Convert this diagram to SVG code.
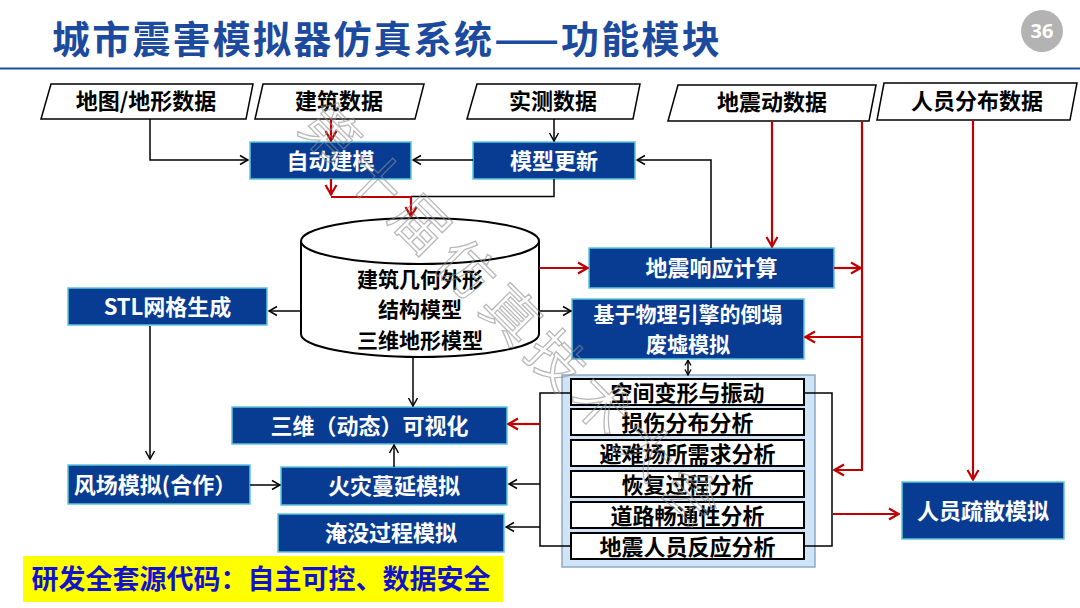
<svg xmlns="http://www.w3.org/2000/svg" width="1080" height="608" viewBox="0 0 1080 608">
<style>
text{font-family:"Noto Sans CJK SC","Microsoft YaHei",sans-serif;font-weight:700;}
.bb{fill:#073c92;stroke:#5cc6dc;stroke-width:1.5;}
.wt{fill:#fff;font-size:22px;text-anchor:middle;dominant-baseline:central;}
.kt{fill:#000;font-size:22px;text-anchor:middle;dominant-baseline:central;}
.ml{font-size:21px;}
.pg{fill:#fff;stroke:#000;stroke-width:1.5;}
.rw{fill:#fff;stroke:#000;stroke-width:2;}
.k{fill:none;stroke:#000;stroke-width:1.5;}
.r{fill:none;stroke:#c00000;stroke-width:2.2;}
</style>
<defs>
<marker id="ak" viewBox="0 0 12 12" refX="11" refY="6" markerWidth="12" markerHeight="12" markerUnits="userSpaceOnUse" orient="auto-start-reverse"><path d="M3,1.5 L11,6 L3,10.5" fill="none" stroke="#000" stroke-width="1.5"/></marker>
<marker id="as" viewBox="0 0 8 8" refX="7.5" refY="4" markerWidth="8" markerHeight="8" markerUnits="userSpaceOnUse" orient="auto-start-reverse"><path d="M2,1 L7.5,4 L2,7" fill="none" stroke="#000" stroke-width="1.3"/></marker>
<marker id="ar" viewBox="0 0 14 14" refX="13" refY="7" markerWidth="14" markerHeight="14" markerUnits="userSpaceOnUse" orient="auto"><path d="M3,1.5 L12.5,7 L3,12.5" fill="none" stroke="#c00000" stroke-width="2.2"/></marker>
</defs>
<rect width="1080" height="608" fill="#fff"/>

<g id="title">
<text x="52" y="53" font-size="38" fill="#1b4a9e" letter-spacing="2.2">城市震害模拟器仿真系统——功能模块</text>
<line x1="0" y1="68.5" x2="1080" y2="68.5" stroke="#1f4e9c" stroke-width="2"/>
</g>
<g id="page-number">
<circle cx="1042" cy="31" r="21" fill="#b3b3b3"/>
<text x="1042" y="30" font-size="20" fill="#fff" text-anchor="middle" dominant-baseline="central" style="font-family:'Open Sans','Liberation Sans',sans-serif">36</text>
</g>

<g id="input-map"><polygon class="pg" points="51,84 253,84 246,119 41,119"/><text class="kt" x="146" y="99">地图/地形数据</text></g>
<g id="input-building"><polygon class="pg" points="263,84 424,84 415,119 255,119"/><text class="kt" x="339" y="99">建筑数据</text></g>
<g id="input-measured"><polygon class="pg" points="477,84 640,84 633,119 467,119"/><text class="kt" x="553" y="99">实测数据</text></g>
<g id="input-ground-motion"><polygon class="pg" points="678,85 876,85 869,121 668,121"/><text class="kt" x="772" y="100">地震动数据</text></g>
<g id="input-population"><polygon class="pg" points="884,83 1077,83 1070,120 877,120"/><text class="kt" x="977" y="99">人员分布数据</text></g>

<g id="auto-modeling"><rect class="bb" x="250" y="142" width="161" height="37"/><text class="wt" x="330.5" y="158.5">自动建模</text></g>
<g id="model-update"><rect class="bb" x="473" y="142" width="162" height="37"/><text class="wt" x="554" y="158.5">模型更新</text></g>

<g id="database">
<path d="M301,241 V334 A119,23 0 0 0 539,334 V241" fill="#fff" stroke="#000" stroke-width="2"/>
<ellipse cx="420" cy="241" rx="119" ry="23" fill="#fff" stroke="#000" stroke-width="2"/>
<text class="kt ml" x="420" y="277.5">建筑几何外形</text>
<text class="kt ml" x="420" y="308">结构模型</text>
<text class="kt ml" x="420" y="338.5">三维地形模型</text>
</g>

<g id="stl-mesh"><rect class="bb" x="68" y="288" width="199" height="37"/><text class="wt" x="167.5" y="304.5">STL网格生成</text></g>
<g id="seismic-response"><rect class="bb" x="589" y="248" width="245" height="40"/><text class="wt" x="711.5" y="266">地震响应计算</text></g>
<g id="collapse-sim"><rect class="bb" x="572" y="299" width="232" height="60"/><text class="wt ml" x="688" y="312.5">基于物理引擎的倒塌</text><text class="wt ml" x="688" y="343">废墟模拟</text></g>
<g id="visualization"><rect class="bb" x="232" y="407" width="275" height="37"/><text class="wt" x="369.5" y="423.5">三维（动态）可视化</text></g>
<g id="wind-field"><rect class="bb" x="68" y="465" width="182" height="39"/><text class="wt" x="155" y="482.5">风场模拟(合作）</text></g>
<g id="fire-spread"><rect class="bb" x="281" y="467" width="226" height="38"/><text class="wt" x="394" y="484">火灾蔓延模拟</text></g>
<g id="flood-sim"><rect class="bb" x="278" y="514" width="226" height="38"/><text class="wt" x="391" y="531">淹没过程模拟</text></g>
<g id="evacuation"><rect class="bb" x="902" y="482" width="162" height="57"/><text class="wt" x="983" y="508.5">人员疏散模拟</text></g>

<g id="analysis">
<rect x="562" y="375" width="253" height="192" fill="#cfe5f7" stroke="#8da9c4" stroke-width="1.5"/>
<rect class="rw" x="571" y="379" width="233" height="26"/><text class="kt" x="687.5" y="390.5">空间变形与振动</text>
<rect class="rw" x="571" y="409" width="233" height="26"/><text class="kt" x="687.5" y="420.5">损伤分布分析</text>
<rect class="rw" x="571" y="440" width="233" height="26"/><text class="kt" x="687.5" y="451.5">避难场所需求分析</text>
<rect class="rw" x="571" y="471" width="233" height="26"/><text class="kt" x="687.5" y="482.5">恢复过程分析</text>
<rect class="rw" x="571" y="502" width="233" height="26"/><text class="kt" x="687.5" y="513.5">道路畅通性分析</text>
<rect class="rw" x="571" y="533" width="233" height="26"/><text class="kt" x="687.5" y="544.5">地震人员反应分析</text>
</g>

<g id="banner"><rect x="23" y="556" width="480" height="46" fill="#ffff00"/><text x="261" y="577" font-size="27" fill="#1212cc" text-anchor="middle" dominant-baseline="central">研发全套源代码：自主可控、数据安全</text></g>

<g id="connectors">
<path class="k" d="M150,119 V160 H248" marker-end="url(#ak)"/>
<path class="k" d="M554,119 V141" marker-end="url(#ak)"/>
<path class="k" d="M473,160 H413" marker-end="url(#ak)"/>
<path class="k" d="M554,179 V196.5 H411"/>
<path class="k" d="M711,248 V160 H637" marker-end="url(#ak)"/>
<path class="k" d="M301,311 H269" marker-end="url(#ak)"/>
<path class="k" d="M539,311 H571" marker-end="url(#ak)"/>
<path class="k" d="M413,357 V406" marker-end="url(#ak)"/>
<path class="k" d="M150,326 V459" marker-end="url(#ak)"/>
<path class="k" d="M250,485 H280" marker-end="url(#ak)"/>
<path class="k" d="M394,467 V445" marker-end="url(#ak)"/>
<path class="k" d="M688,360 V375" marker-start="url(#as)" marker-end="url(#as)"/>
<path class="k" d="M571,393 H540 V546 H571"/>
<path class="k" d="M540,484 H509" marker-end="url(#ak)"/>
<path class="k" d="M540,527 H506" marker-end="url(#ak)"/>
<path class="k" d="M804,393 H832 V546 H804"/>
<path class="r" d="M331,119 V141" marker-end="url(#ar)"/>
<path class="r" d="M331,179 V195" marker-end="url(#ar)"/>
<path class="r" d="M331,197 H411 V217" marker-end="url(#ar)"/>
<path class="r" d="M539,268 H588" marker-end="url(#ar)"/>
<path class="r" d="M772,121 V247" marker-end="url(#ar)"/>
<path class="r" d="M862,121 V470 H834" marker-end="url(#ar)"/>
<path class="r" d="M834,268 H861" marker-end="url(#ar)"/>
<path class="r" d="M862,337 H805" marker-end="url(#ar)"/>
<path class="r" d="M540,424 H508" marker-end="url(#ar)"/>
<path class="r" d="M833,514 H899" marker-end="url(#ar)"/>
<path class="r" d="M973,120 V480" marker-end="url(#ar)"/>
</g>

<g id="watermark" opacity="0.6">
<text x="296" y="128" font-size="56" fill="none" stroke="#8c8c8c" stroke-width="1.3" letter-spacing="8" transform="rotate(45 296 128)" style="font-weight:400">第十届仿真技术大会</text>
</g>
</svg>
